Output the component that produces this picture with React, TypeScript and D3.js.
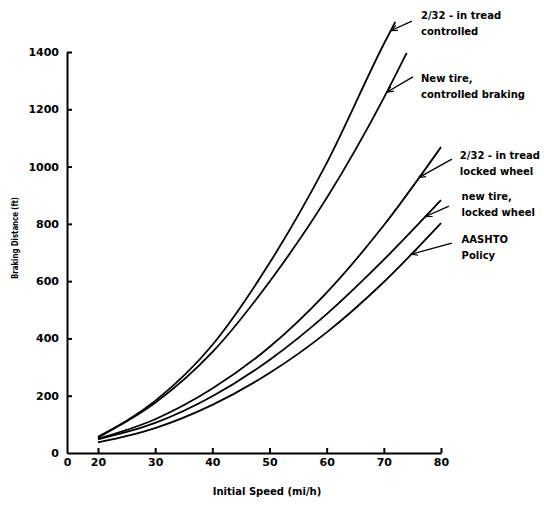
import React, { useEffect, useRef } from "react";
import * as d3 from "d3";

const SPEED_TICKS = [0, 20, 30, 40, 50, 60, 70, 80];
const DIST_TICKS = [0, 200, 400, 600, 800, 1000, 1200, 1400];

// braking distance (ft) vs initial speed (mi/h)
const TREAD_CTRL_SPEED = [20, 30, 40, 50, 60, 70, 72];
const TREAD_CTRL_DIST = [57, 182, 377, 663, 1012, 1428, 1505];

const NEW_CTRL_SPEED = [20, 30, 40, 50, 60, 70, 74];
const NEW_CTRL_DIST = [54, 175, 352, 598, 890, 1240, 1397];

const TREAD_LOCK_SPEED = [20, 30, 40, 50, 60, 70, 80];
const TREAD_LOCK_DIST = [50, 118, 225, 370, 560, 795, 1068];

const NEW_LOCK_SPEED = [20, 30, 40, 50, 60, 70, 80];
const NEW_LOCK_DIST = [48, 105, 198, 325, 485, 675, 883];

const AASHTO_SPEED = [20, 30, 40, 50, 60, 70, 80];
const AASHTO_DIST = [37, 87, 168, 279, 421, 597, 803];

const SERIES_SPEEDS = [TREAD_CTRL_SPEED, NEW_CTRL_SPEED, TREAD_LOCK_SPEED, NEW_LOCK_SPEED, AASHTO_SPEED];
const SERIES_DISTS = [TREAD_CTRL_DIST, NEW_CTRL_DIST, TREAD_LOCK_DIST, NEW_LOCK_DIST, AASHTO_DIST];

const LABEL_LINES = [
  ["2/32 - in tread", "controlled"],
  ["New tire,", "controlled braking"],
  ["2/32 - in tread", "locked wheel"],
  ["new tire,", "locked wheel"],
  ["AASHTO", "Policy"],
];
// label anchor (speed, distance) and leader start, leader touches curve at LEADER_HIT speed
const LABEL_SPEED = [76.5, 76.5, 83.3, 83.6, 83.6];
const LABEL_DIST = [1529, 1309, 1040, 894, 744];
const LEADER_SPEED = [74.9, 75.1, 81.9, 81.4, 81.9];
const LEADER_DIST = [1508, 1313, 1026, 862, 733];
const LEADER_HIT = [71.2, 70.5, 76.1, 77.2, 74.7];

export default function App() {
  const svgRef = useRef<SVGSVGElement>(null);

  useEffect(() => {
    const width = 544;
    const height = 506;
    const font = "'DejaVu Sans', sans-serif";

    const svg = d3.select(svgRef.current);
    svg.selectAll("*").remove();
    svg.attr("width", width).attr("height", height);

    // the original axis jumps from 0 straight to 20
    const x = d3.scaleLinear().domain([0, 20, 80]).range([67, 98, 441]);
    const y = d3.scaleLinear().domain([0, 1400]).range([453, 52]);

    const styleAxis = (g: any) => {
      g.select(".domain").attr("stroke", "#000").attr("stroke-width", 2);
      g.selectAll(".tick line").attr("stroke", "#000").attr("stroke-width", 2);
      g.selectAll(".tick text")
        .attr("fill", "#000")
        .style("font-family", font)
        .style("font-size", "11px")
        .style("font-weight", "bold");
    };

    svg.append("g")
      .attr("transform", `translate(0,${y(0)})`)
      .call(d3.axisBottom(x).tickValues(SPEED_TICKS).tickSize(-5).tickSizeOuter(0).tickPadding(5).tickFormat(d3.format("d")))
      .call(styleAxis)
      .call((g: any) => g.selectAll(".tick").filter((d: number) => d === 0).select("line").remove());

    svg.append("g")
      .attr("transform", `translate(${x(0)},0)`)
      .call(d3.axisLeft(y).tickValues(DIST_TICKS).tickSize(-5).tickSizeOuter(0).tickPadding(8).tickFormat(d3.format("d")))
      .call(styleAxis)
      .call((g: any) => g.selectAll(".tick").filter((d: number) => d === 0).select("line").remove());

    // axis titles
    svg.append("text")
      .attr("x", 267).attr("y", 495)
      .attr("text-anchor", "middle")
      .style("font-family", font).style("font-size", "10px").style("font-weight", "bold")
      .text("Initial Speed (mi/h)");

    svg.append("text")
      .attr("transform", "translate(18,238) rotate(-90)")
      .attr("text-anchor", "middle")
      .attr("textLength", 82).attr("lengthAdjust", "spacingAndGlyphs")
      .style("font-family", font).style("font-size", "9px").style("font-weight", "bold")
      .text("Braking Distance (ft)");

    // curves
    const line = d3.line<[number, number]>()
      .x(d => x(d[0]))
      .y(d => y(d[1]))
      .curve(d3.curveMonotoneX);

    SERIES_SPEEDS.forEach((speeds, i) => {
      const pts = speeds.map((s, j) => [s, SERIES_DISTS[i][j]] as [number, number]);
      svg.append("path")
        .attr("d", line(pts))
        .attr("fill", "none")
        .attr("stroke", "#000")
        .attr("stroke-width", 1.8);
    });

    // small open arrowhead for leaders
    svg.append("defs").append("marker")
      .attr("id", "arr")
      .attr("viewBox", "0 0 10 10")
      .attr("refX", 10).attr("refY", 5)
      .attr("markerWidth", 7).attr("markerHeight", 7)
      .attr("markerUnits", "userSpaceOnUse")
      .attr("orient", "auto")
      .append("path")
      .attr("d", "M0,1 L10,5 L0,9")
      .attr("fill", "none")
      .attr("stroke", "#000")
      .attr("stroke-width", 1.6);

    // leader lines and labels
    LABEL_LINES.forEach((lines, i) => {
      const hitSpeed = LEADER_HIT[i];
      const hitDist = d3.scaleLinear().domain(SERIES_SPEEDS[i]).range(SERIES_DISTS[i])(hitSpeed);
      svg.append("line")
        .attr("x1", x(LEADER_SPEED[i])).attr("y1", y(LEADER_DIST[i]))
        .attr("x2", x(hitSpeed)).attr("y2", y(hitDist))
        .attr("stroke", "#000")
        .attr("stroke-width", 1.3)
        .attr("marker-end", "url(#arr)");

      const t = svg.append("text")
        .attr("x", x(LABEL_SPEED[i]))
        .attr("y", y(LABEL_DIST[i]))
        .style("font-family", font).style("font-size", "10px").style("font-weight", "bold");
      lines.forEach((s, k) => {
        t.append("tspan")
          .attr("x", x(LABEL_SPEED[i]))
          .attr("dy", k === 0 ? "0.35em" : 16)
          .text(s);
      });
    });
  }, []);

  return (
    <div style={{ position: "absolute", left: 0, top: 0, width: 544, height: 506, background: "#fff" }}>
      <svg ref={svgRef} />
    </div>
  );
}
